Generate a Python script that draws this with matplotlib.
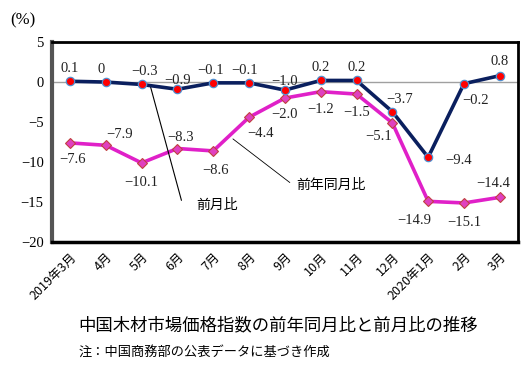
import matplotlib
matplotlib.use('Agg')
from matplotlib import pyplot as plt
import numpy as np

plt.rcParams['font.family'] = ['Noto Sans CJK JP', 'DejaVu Sans']

months = ['2019年3月', '4月', '5月', '6月', '7月', '8月', '9月', '10月',
          '11月', '12月', '2020年1月', '2月', '3月']
mom = [0.1, 0, -0.3, -0.9, -0.1, -0.1, -1.0, 0.2, 0.2, -3.7, -9.4, -0.2, 0.8]
yoy = [-7.6, -7.9, -10.1, -8.3, -8.6, -4.4, -2.0, -1.2, -1.5, -5.1, -14.9, -15.1, -14.4]
yticks = [5, 0, -5, -10, -15, -20]

# label offsets in points (dx, dy)
mom_off = [(0, 9), (-3, 9), (2, 9), (0, 6), (-2, 9), (-3, 9), (0, 6), (0, 9),
           (0, 9), (5, 9), (22, -2), (8, -12), (0, 10)]
yoy_off = [(2, -12), (10, 8), (0, -14), (2, 8), (2, -14), (8, -12), (0, -12),
           (0, -13), (0, -13), (-10, -10), (-10, -14), (0, -14), (-5, 10)]

fig = plt.figure(figsize=(5.31, 3.72), dpi=100)
ax = fig.add_axes([0.098, 0.349, 0.877, 0.538])

x = np.arange(len(months))
ax.axhline(0, color='#a0a0a0', lw=1, zorder=1)

ax.plot(x, yoy, color='#e020c8', lw=2.6, marker='D', ms=5,
        mfc='#e040c0', mec='#c04040', mew=0.8, zorder=3)
ax.plot(x, mom, color='#0a1f5e', lw=2.6, marker='o', ms=6,
        mfc='#ff0000', mec='#5090d0', mew=0.9, zorder=4)

num_font = dict(family=['Liberation Serif', 'DejaVu Serif'], fontsize=10.5, color='#222222')
for i, v in enumerate(mom):
    s = '0' if v == 0 else f'{v:.1f}'.replace('-', '−')
    ax.annotate(s, (x[i], v), xytext=mom_off[i], textcoords='offset points',
                ha='center', va='center', **num_font)
for i, v in enumerate(yoy):
    s = f'{v:.1f}'.replace('-', '−')
    ax.annotate(s, (x[i], v), xytext=yoy_off[i], textcoords='offset points',
                ha='center', va='center', **num_font)

# callouts
ax.annotate('前月比', xy=(2.25, -0.6), xytext=(4.1, -15.3),
            fontsize=10, ha='center', va='center',
            arrowprops=dict(arrowstyle='-', color='black', lw=0.8,
                            shrinkA=0, shrinkB=0, relpos=(-0.35, 0.8)))
ax.annotate('前年同月比', xy=(4.55, -7.1), xytext=(7.3, -12.9),
            fontsize=10, ha='center', va='center',
            arrowprops=dict(arrowstyle='-', color='black', lw=0.6,
                            shrinkA=0, shrinkB=0, relpos=(-0.1, 0.7)))

ax.set_xlim(-0.5, len(months) - 0.5)
ax.set_ylim(-20, 5)
ax.set_yticks(yticks)
ax.set_yticklabels([str(t).replace('-', '−') for t in yticks],
                   fontfamily=['Liberation Serif', 'DejaVu Serif'], fontsize=10.5)
ax.set_xticks(x)
ax.set_xticklabels(months, rotation=45, ha='right', rotation_mode='anchor', fontsize=9)
ax.tick_params(length=0, pad=6)
for sp in ax.spines.values():
    sp.set_linewidth(2)
    sp.set_color('black')
ax.spines['left'].set_color('#555555')
ax.spines['left'].set_linewidth(3)
ax.spines['bottom'].set_linewidth(2.5)

fig.text(0.02, 0.935, '(%)', fontsize=12, fontfamily=['Liberation Serif', 'DejaVu Serif'])
fig.text(0.147, 0.125, '中国木材市場価格指数の前年同月比と前月比の推移', fontsize=12.5, va='center')
fig.text(0.147, 0.052, '注：中国商務部の公表データに基づき作成', fontsize=9.5, va='center')

fig.savefig('out.png', dpi=100)
